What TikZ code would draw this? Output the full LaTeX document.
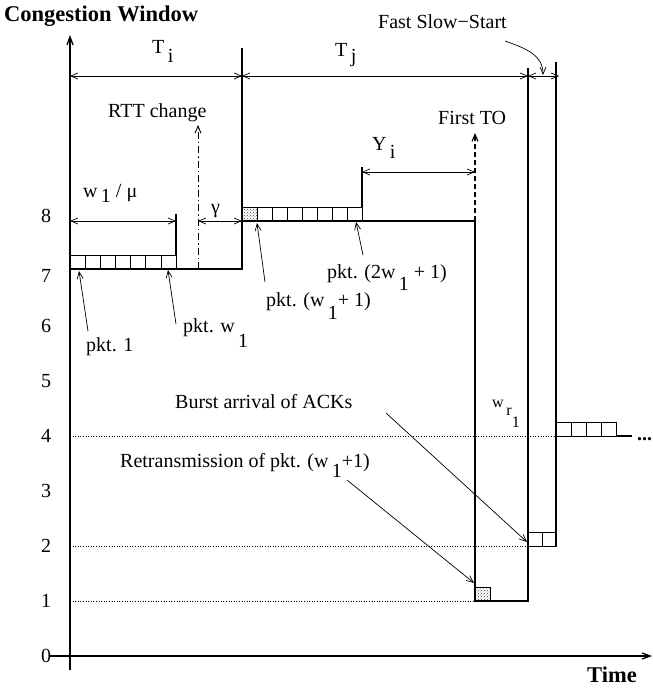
\documentclass[tikz,border=0pt]{standalone}
\usepackage{fontspec}
\setmainfont{Liberation Serif}
\usetikzlibrary{arrows.meta,patterns}
\newcommand{\dn}[2]{\raisebox{-#1}{#2}}

\begin{document}
\begin{tikzpicture}[x=1pt,y=-1pt,
    lbl/.style={font=\fontsize{20}{22}\selectfont,inner sep=0pt,anchor=base west},
    ttl/.style={font=\fontsize{22.5}{24}\selectfont\bfseries,inner sep=0pt,anchor=base west},
    tick/.style={font=\fontsize{20}{22}\selectfont,inner sep=0pt},
    curve/.style={line width=1.3pt},
    dim/.style={line width=0.7pt,{Straight Barb[length=7pt,width=6pt]}-{Straight Barb[length=7pt,width=6pt]}},
    ptr/.style={line width=0.7pt,-{Straight Barb[length=7pt,width=6pt]}},
    pkt/.style={line width=0.7pt},
    lost/.style={pkt,pattern=crosshatch dots,pattern color=black!75},
    level/.style={dotted,line width=0.6pt}]
  \useasboundingbox (0,0) rectangle (653,688);
  % axes
  \draw[curve,-{Straight Barb[length=8pt,width=6pt]}] (70,670) -- (70,35);
  \draw[curve,-{Straight Barb[length=8pt,width=6pt]}] (50,656) -- (652,656);
  \foreach \v/\y in {0/656,1/601,2/546,3/491,4/436,5/381,6/326,7/276,8/216}
    \node[tick] (n\v) at (46,\y) {\v};
  \draw[level] (70,436) -- (556,436);
  \draw[level] (70,546) -- (528,546);
  \draw[level] (70,601) -- (475,601);
  % packets
  \foreach \k in {0,...,6}
    \draw[pkt] (70+\k*15.15,255) rectangle ++(15.15,14);
  \foreach \k in {0,...,7}
    \draw[pkt] (242+\k*15,207) rectangle ++(15,14);
  \draw[lost] (242,207) rectangle ++(15,14);
  \draw[lost] (475,587) rectangle ++(15,14);
  \foreach \k in {0,1}
    \draw[pkt] (528+\k*14,532) rectangle ++(14,14);
  \foreach \k in {0,...,3}
    \draw[pkt] (556+\k*15,422) rectangle ++(15,14);
  % window
  \draw[curve] (70,269) -- (242,269) -- (242,221) -- (475,221) -- (475,601)
    -- (528,601) -- (528,68);
  \draw[curve] (242,48) -- (242,269);
  \draw[curve] (176,255) -- (176,214);
  \draw[curve] (362,207) -- (362,167);
  \draw[curve] (556,62) -- (556,546);
  \draw[curve] (616,436) -- (632,436);
  % intervals
  \draw[dim] (70,76) -- (242,76);
  \draw[dim] (242,76) -- (528,76);
  \draw[dim] (528,76) -- (559,76);
  \draw[dim] (70,221) -- (176,221);
  \draw[dim] (198,221) -- (242,221);
  \draw[dim] (362,172) -- (475,172);
  \draw[line width=0.9pt,dash pattern=on 7pt off 3pt on 1.5pt off 3pt,
    -{Straight Barb[length=7pt,width=6pt]}] (198,269) -- (198,125);
  \draw[line width=1.1pt,dash pattern=on 5pt off 3pt,
    -{Straight Barb[length=7pt,width=6pt]}] (475,221) -- (475,133);
  % labels
  \node[ttl] (cwnd) at (4,21) {Congestion Window};
  \node[ttl] (time) at (587,682) {Time};
  \node[lbl] (Ti) at (152,53) {T\,\dn{9pt}{i}};
  \node[lbl] (Tj) at (335,56) {T\,\dn{6pt}{j}};
  \node[lbl] (rtt) at (108,117) {RTT change};
  \node[lbl] (wmu) at (83,197) {w\,\dn{5pt}{1} / μ};
  \node[lbl] (gam) at (211,213) {γ};
  \node[lbl] (Yi) at (372,150) {Y\,\dn{8pt}{i}};
  \node[lbl] (fto) at (438,124) {First TO};
  \node[lbl] (fss) at (378,28) {Fast Slow−Start};
  \node[lbl] (lp1) at (86,351) {pkt. 1};
  \node[lbl] (lpw) at (183,332) {pkt. w\,\dn{15pt}{1}};
  \node[lbl] (lpw1) at (266,306) {pkt. (w\,\dn{13pt}{1}+ 1)};
  \node[lbl] (lp2w) at (327,278) {pkt. (2w\,\dn{12pt}{1} + 1)};
  \node[lbl] (burst) at (175,408) {Burst arrival of ACKs};
  \node[lbl] (retx) at (120,467) {Retransmission of pkt. (w\,\dn{10pt}{1}+1)};
  \node[lbl,font=\fontsize{16}{18}\selectfont] (wr) at (492,407) {w\,\dn{8pt}{r}\dn{20pt}{1}};
  \node[lbl] (dots) at (637,440) {\textbf{...}};
  % pointers
  \coordinate (p1) at (79,271);    \coordinate (p1t) at (88,331);
  \coordinate (pw) at (168,270);   \coordinate (pwt) at (176,324);
  \coordinate (pw1) at (257,223);  \coordinate (pw1t) at (265,282);
  \coordinate (p2w) at (356,222);  \coordinate (p2wt) at (363,255);
  \coordinate (ack) at (527,542);  \coordinate (ackt) at (386,413);
  \coordinate (re) at (474,583);   \coordinate (ret) at (347,480);
  \coordinate (ss) at (543,75);    \coordinate (sst) at (505,41);
  \draw[ptr] (p1t) -- (p1);
  \draw[ptr] (pwt) -- (pw);
  \draw[ptr] (pw1t) -- (pw1);
  \draw[ptr] (p2wt) -- (p2w);
  \draw[ptr] (ackt) -- (ack);
  \draw[ptr] (ret) -- (re);
  \draw[ptr] (sst) .. controls (528,49) and (543,56) .. (ss);
\end{tikzpicture}
\end{document}
